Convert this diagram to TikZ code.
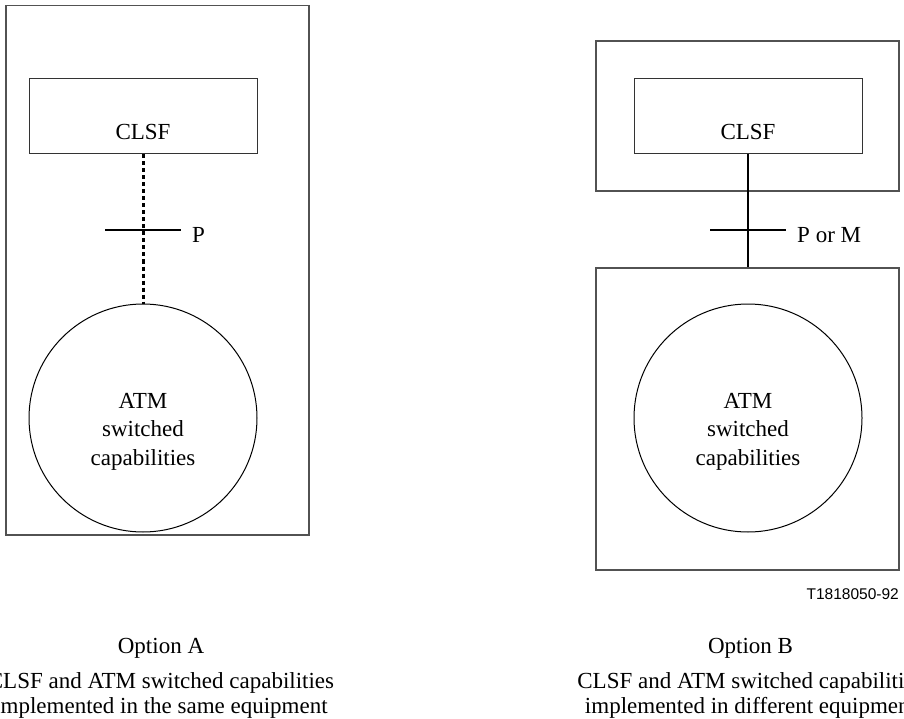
\documentclass[tikz,border=0pt]{standalone}
\usepackage{fontspec}
\setmainfont{Liberation Serif}
\setsansfont{Liberation Sans}
\usetikzlibrary{positioning}
\def\txt{\fontsize{23}{28.5}\selectfont}
\def\cap{\fontsize{23}{25}\selectfont}
\def\tag{\sffamily\fontsize{15.5}{18}\selectfont}

\begin{document}
\begin{tikzpicture}[x=1pt,y=-1pt,
    equip/.style={draw=black!68,line width=1.4pt,inner sep=0pt},
    clsfbox/.style={draw=black!80,line width=1pt,inner sep=0pt,minimum width=228pt,minimum height=75pt},
    atmcirc/.style={draw=black,line width=1pt,circle,inner sep=0pt,minimum size=228pt},
    dotlink/.style={line width=3pt,dash pattern=on 4pt off 3pt},
    solidlink/.style={line width=2pt},
    tick/.style={line width=2pt}]
        %
        \useasboundingbox (0,0) rectangle (904,719);
        \clip (0,0) rectangle (904,719);
        %
        % Option A
        \node[equip,minimum width=303pt,minimum height=529.5pt] (eqA) at (157.5,270.25) {};
        \node[clsfbox] (clsfA) at (143,116.5) {};
        \node[anchor=base,inner sep=0pt,font=\txt] (clsfAtxt) at (143,140) {CLSF};
        \node[atmcirc] (atmA) at (143,418) {};
        \node[anchor=north,align=center,inner sep=0pt,font=\txt] (atmAtxt) at (143,393) {ATM\\switched\\capabilities};
        \draw[dotlink] (clsfA.south) -- (atmA.north);
        \coordinate (pA) at (143,230);
        \draw[tick] ([xshift=-38pt]pA) -- ([xshift=38pt]pA);
        \node[anchor=base west,inner sep=0pt,font=\txt] (pAtxt) at (192,243) {P};
        %
        % Option B
        \node[equip,minimum width=303pt,minimum height=150pt] (eqB1) at (747.5,116) {};
        \node[equip,minimum width=303pt,minimum height=302pt] (eqB2) at (747.5,419) {};
        \node[clsfbox] (clsfB) at (748,116.5) {};
        \node[anchor=base,inner sep=0pt,font=\txt] (clsfBtxt) at (748,140) {CLSF};
        \node[atmcirc] (atmB) at (748,418) {};
        \node[anchor=north,align=center,inner sep=0pt,font=\txt] (atmBtxt) at (748,393) {ATM\\switched\\capabilities};
        \draw[solidlink] (clsfB.south) -- (clsfB.south |- eqB2.north);
        \coordinate (pB) at (748,230);
        \draw[tick] ([xshift=-38pt]pB) -- ([xshift=38pt]pB);
        \node[anchor=base west,inner sep=0pt,font=\txt] (pBtxt) at (797,243) {P or M};
        %
        \node[anchor=base east,inner sep=0pt,font=\tag] (fig) at (899,599) {T1818050-92};
        %
        % captions
        \node[anchor=base,inner sep=0pt,font=\txt] (optA) at (161,653) {Option A};
        \node[anchor=north,align=center,inner sep=0pt,font=\cap] (capA) at (161,672) {CLSF and ATM switched capabilities\\implemented in the same equipment};
        \node[anchor=base,inner sep=0pt,font=\txt] (optB) at (750.5,653) {Option B};
        \node[anchor=north,align=center,inner sep=0pt,font=\cap] (capB) at (750.5,672) {CLSF and ATM switched capabilities\\implemented in different equipment};
\end{tikzpicture}
\end{document}
